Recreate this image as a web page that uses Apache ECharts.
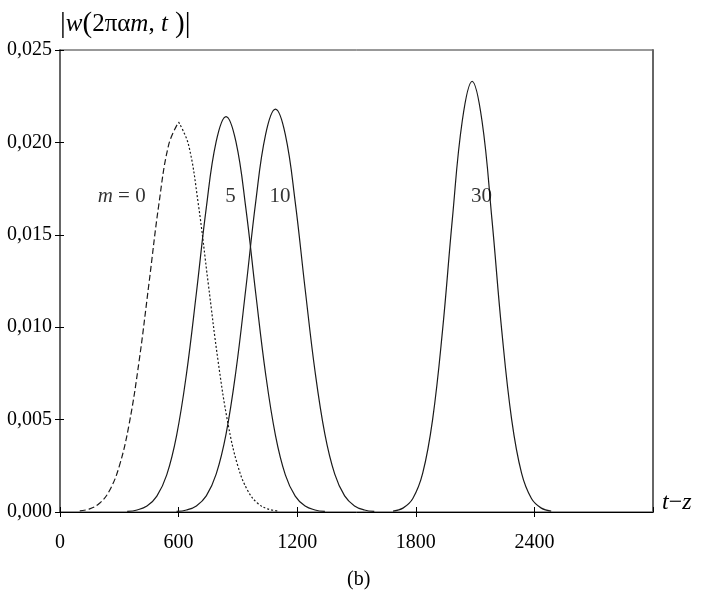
<!DOCTYPE html>
<html><head><meta charset="utf-8">
<script src="https://cdn.jsdelivr.net/npm/echarts@6/dist/echarts.min.js"></script>
<style>html,body{margin:0;padding:0;background:#fff}#c{width:701px;height:592px}</style>
</head><body><div id="c"></div>
<script>
// m = 0 (left half dashed, right half dotted)
const m0LeftX  = [100, 150, 200, 250, 300, 350, 400, 450, 500, 550, 600];
const m0LeftY  = [0.00006, 0.00017, 0.00047, 0.00115, 0.00248, 0.00477, 0.00815, 0.01236, 0.01664, 0.01988, 0.02110];
const m0RightX = [600, 650, 700, 750, 800, 850, 900, 950, 1000, 1050, 1100];
const m0RightY = [0.02110, 0.01988, 0.01664, 0.01236, 0.00815, 0.00477, 0.00248, 0.00115, 0.00047, 0.00017, 0.00006];
// m = 5
const m5X = [340, 390, 440, 490, 540, 590, 640, 690, 740, 790, 840, 890, 940, 990, 1040, 1090, 1140, 1190, 1240, 1290, 1340];
const m5Y = [0.00003, 0.00011, 0.00032, 0.00086, 0.00201, 0.00415, 0.00749, 0.01185, 0.01646, 0.02004, 0.02140, 0.02004, 0.01646, 0.01185, 0.00749, 0.00415, 0.00201, 0.00086, 0.00032, 0.00011, 0.00003];
// m = 10
const m10X = [590, 640, 690, 740, 790, 840, 890, 940, 990, 1040, 1090, 1140, 1190, 1240, 1290, 1340, 1390, 1440, 1490, 1540, 1590];
const m10Y = [0.00003, 0.00011, 0.00033, 0.00087, 0.00205, 0.00422, 0.00763, 0.01208, 0.01677, 0.02042, 0.02180, 0.02042, 0.01677, 0.01208, 0.00763, 0.00422, 0.00205, 0.00087, 0.00033, 0.00011, 0.00003];
// m = 30
const m30X = [1685, 1735, 1785, 1835, 1885, 1935, 1985, 2035, 2085, 2135, 2185, 2235, 2285, 2335, 2385, 2435, 2485];
const m30Y = [0.00005, 0.00021, 0.00073, 0.00210, 0.00500, 0.00980, 0.01586, 0.02116, 0.02330, 0.02116, 0.01586, 0.00980, 0.00500, 0.00210, 0.00073, 0.00021, 0.00005];
// curve labels
const labelX = [312, 863, 1113, 2133];
const labelY = [0.0171, 0.0171, 0.0171, 0.0171];
const labelText = ['{i|m} = 0', '5', '10', '30'];
// axes
const xMin = 0, xMax = 3000, xStep = 600;
const yMin = 0, yMax = 0.025, yStep = 0.005;

function pairs(xs, ys) { return xs.map((x, i) => [x, ys[i]]); }

const FONT = 'Liberation Serif';
const chart = echarts.init(document.getElementById('c'));
const lineBase = (name, xs, ys, type) => ({
  name, type: 'line', data: pairs(xs, ys), showSymbol: false, smooth: 0.4,
  lineStyle: { color: '#1a1a1a', width: 1.2, type: type },
  silent: true, z: 3
});
chart.setOption({
  animation: false,
  textStyle: { fontFamily: FONT },
  title: {
    text: '(b)', left: 347, top: 570, padding: 0,
    textStyle: { fontFamily: FONT, fontSize: 20, fontWeight: 'normal', color: '#000' }
  },
  grid: { left: 60, right: 48, top: 50, bottom: 80, show: true, borderColor: '#333', borderWidth: 1 },
  xAxis: [{
    type: 'value', min: xMin, max: xMax, interval: xStep,
    name: '{i|t}{n|−}{i|z}', nameLocation: 'end', nameGap: 9,
    nameTextStyle: {
      padding: [0, 0, 18, 0],
      rich: {
        i: { fontFamily: FONT, fontStyle: 'italic', fontSize: 24, color: '#000' },
        n: { fontFamily: FONT, fontSize: 24, color: '#000' }
      }
    },
    axisLine: { show: true, lineStyle: { color: '#000', width: 1 } },
    axisTick: { show: true, inside: false, length: 5, lineStyle: { color: '#000' } },
    axisLabel: {
      margin: 21, fontFamily: FONT, fontSize: 20, color: '#000', showMaxLabel: false,
      formatter: v => (v >= xMax ? '' : String(v))
    },
    splitLine: { show: false }
  }, {
    type: 'value', min: xMin, max: xMax, interval: xStep, position: 'bottom',
    axisLine: { show: false },
    axisTick: { show: true, inside: true, length: 5, lineStyle: { color: '#000' } },
    axisLabel: { show: false }, splitLine: { show: false }
  }],
  yAxis: [{
    type: 'value', min: yMin, max: yMax, interval: yStep,
    name: '{b||}{i|w}{p|(}{n|2πα}{i|m}{n|,}{i| t}{p| )}{b||}',
    nameLocation: 'end', nameGap: 11,
    nameTextStyle: {
      align: 'left',
      rich: {
        b: { fontFamily: FONT, fontSize: 29, color: '#000' },
        p: { fontFamily: FONT, fontSize: 29, color: '#000' },
        i: { fontFamily: FONT, fontStyle: 'italic', fontSize: 25, color: '#000' },
        n: { fontFamily: FONT, fontSize: 25, color: '#000' }
      }
    },
    axisLine: { show: true, lineStyle: { color: '#666', width: 2 } },
    axisTick: { show: true, inside: false, length: 5, lineStyle: { color: '#000' } },
    axisLabel: {
      margin: 8, fontFamily: FONT, fontSize: 20, color: '#000',
      formatter: v => v.toFixed(3).replace('.', ',')
    },
    splitLine: { show: false }
  }, {
    type: 'value', min: yMin, max: yMax, interval: yStep, position: 'left',
    axisLine: { show: false },
    axisTick: { show: true, inside: true, length: 4, lineStyle: { color: '#000' } },
    axisLabel: { show: false }, splitLine: { show: false }
  }, {
    type: 'value', min: yMin, max: yMax, position: 'right',
    axisLine: { show: true, lineStyle: { color: '#666', width: 2 } },
    axisTick: { show: false }, axisLabel: { show: false }, splitLine: { show: false }
  }],
  series: [
    lineBase('m0a', m0LeftX, m0LeftY, [6, 3]),
    lineBase('m0b', m0RightX, m0RightY, [2, 2]),
    lineBase('m5', m5X, m5Y, 'solid'),
    lineBase('m10', m10X, m10Y, 'solid'),
    lineBase('m30', m30X, m30Y, 'solid'),
    {
      type: 'scatter', symbolSize: 0, silent: true, z: 5,
      itemStyle: { color: '#000' },
      data: labelX.map((x, i) => ({ value: [x, labelY[i]], label: { formatter: labelText[i] } })),
      label: {
        show: true, position: 'inside', color: '#000', fontFamily: FONT, fontSize: 21,
        textBorderWidth: 0,
        rich: { i: { fontFamily: FONT, fontStyle: 'italic', fontSize: 21, color: '#000' } }
      }
    }
  ]
});
</script>
</body></html>
